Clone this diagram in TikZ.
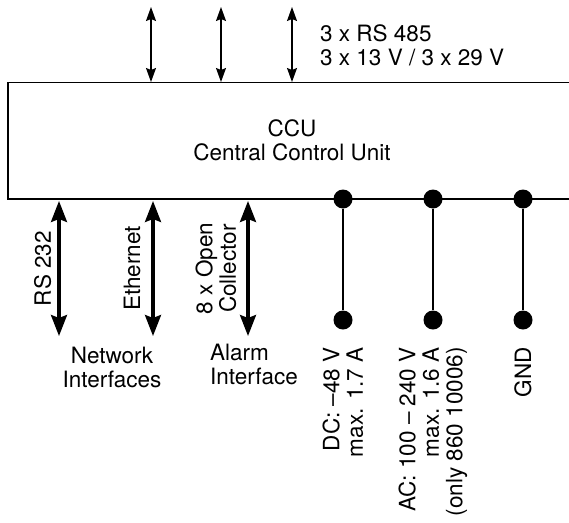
\documentclass[tikz,border=0pt]{standalone}
\usepackage{fontspec}
\setmainfont{TeX Gyre Heros}
\usetikzlibrary{arrows.meta,positioning}
\tikzset{
    frame/.style = {line width=1.4pt},
    link/.style = {<->, >={Stealth[length=14pt,width=10pt,inset=2pt]}, line width=1.3pt},
    port/.style = {<->, >={Stealth[length=21pt,width=16pt,inset=3pt]}, line width=3.2pt},
    wire/.style = {line width=1.5pt},
    dot/.style = {circle, fill=black, inner sep=0pt, minimum size=19pt},
    rot/.style = {rotate=90, inner sep=0pt, align=right},
    txt/.style = {inner sep=0pt}
}

\begin{document}
\begin{tikzpicture}[x=1pt, y=-1pt, font=\fontsize{22.5}{23.5}\selectfont]

    \useasboundingbox (0,0) rectangle (569,522);

    % Unit
    \draw[frame] (569,82.5) -| (8,199) -- (569,199);
    \node[txt, anchor=base, align=center] (ccu) at (292,160) {CCU\\Central Control Unit};

    % Top links
    \coordinate (t1) at (151,7);   \coordinate (u1) at (151,82);
    \coordinate (t2) at (221,7);   \coordinate (u2) at (221,82);
    \coordinate (t3) at (292,7);   \coordinate (u3) at (292,82);
    \draw[link] (t1) -- (u1);
    \draw[link] (t2) -- (u2);
    \draw[link] (t3) -- (u3);
    \node[txt, anchor=base west, align=left] (rs485) at (320,65) {3 x RS 485\\3 x 13 V / 3 x 29 V};

    % Bottom ports
    \coordinate (p1) at (59,201);   \coordinate (q1) at (59,336);
    \coordinate (p2) at (153,201);  \coordinate (q2) at (153,336);
    \coordinate (p3) at (248,201);  \coordinate (q3) at (248,336);
    \draw[port] (p1) -- node[anchor=south, xshift=-6pt, rot] (rs232) {RS 232} (q1);
    \draw[port] (p2) -- node[anchor=south, xshift=-11pt, rot] (eth) {Ethernet} (q2);
    \draw[port] (p3) -- node[anchor=south, xshift=-10pt, rot, align=center] (oc) {8 x Open\\Collector} (q3);

    \node[txt, anchor=base, align=center] (net) at (112,387) {Network\\Interfaces};
    \node[txt, anchor=base west, align=left] (alarm) at (210,384) {Alarm\\Interface};

    % Power
    \node[dot] (dca) at (343,199) {};
    \node[dot] (dcb) at (343,320) {};
    \node[dot] (aca) at (433,199) {};
    \node[dot] (acb) at (433,320) {};
    \node[dot] (gnda) at (523,199) {};
    \node[dot] (gndb) at (523,320) {};
    \draw[wire] (dca) -- (dcb);
    \draw[wire] (aca) -- (acb);
    \draw[wire] (gnda) -- (gndb);

    \node[rot, anchor=east] (dc) at ([yshift=-17.5pt]dcb.south) {DC: –48 V\\max. 1.7 A};
    \node[rot, anchor=east] (ac) at ([yshift=-17.5pt]acb.south) {AC: 100 – 240 V\\max. 1.6 A\\(only 860 10006)};
    \node[rot, anchor=east] (gnd) at ([yshift=-17.5pt]gndb.south) {GND};

\end{tikzpicture}
\end{document}
